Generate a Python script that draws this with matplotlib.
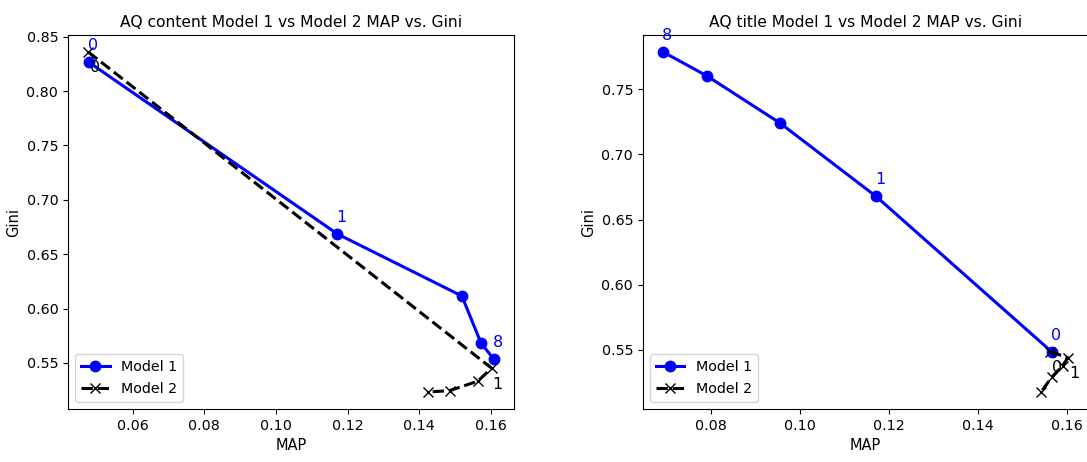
import matplotlib
matplotlib.use('Agg')
import matplotlib.pyplot as plt

# left panel: AQ content
content_m1_map = [0.0478, 0.1171, 0.1519, 0.1572, 0.1608]
content_m1_gini = [0.8265, 0.6687, 0.6115, 0.5685, 0.5534]
content_m1_labels = {0: '0', 1: '1', 4: '8'}
content_m2_map = [0.0476, 0.1602, 0.1563, 0.1485, 0.1425]
content_m2_gini = [0.8360, 0.5451, 0.5331, 0.5245, 0.5232]
content_m2_labels = {0: '0', 1: '1'}

# right panel: AQ title
title_m1_map = [0.0693, 0.0792, 0.0956, 0.1171, 0.1565]
title_m1_gini = [0.7785, 0.7600, 0.7238, 0.6677, 0.5485]
title_m1_labels = {0: '8', 3: '1', 4: '0'}
title_m2_map = [0.1562, 0.1601, 0.1590, 0.1565, 0.1541]
title_m2_gini = [0.5487, 0.5440, 0.5380, 0.5290, 0.5177]
title_m2_labels = {0: '0', 1: '1'}

panels = [
    ('AQ content Model 1 vs Model 2 MAP vs. Gini', content_m1_map, content_m1_gini, content_m1_labels,
     content_m2_map, content_m2_gini, content_m2_labels),
    ('AQ title Model 1 vs Model 2 MAP vs. Gini', title_m1_map, title_m1_gini, title_m1_labels,
     title_m2_map, title_m2_gini, title_m2_labels),
]

fig = plt.figure(figsize=(10.87, 4.62), dpi=100)
ax1 = fig.add_axes([0.0626, 0.1147, 0.4103, 0.8095])
ax2 = fig.add_axes([0.5915, 0.1147, 0.4094, 0.8095])

for ax, (title, m1x, m1y, m1l, m2x, m2y, m2l) in zip([ax1, ax2], panels):
    ax.plot(m1x, m1y, 'b-o', lw=2.2, ms=7.5, label='Model 1')
    ax.plot(m2x, m2y, 'k--x', lw=2.2, ms=7, label='Model 2')
    for i, t in m1l.items():
        ax.annotate(t, (m1x[i], m1y[i]), xytext=(3, 12), textcoords='offset points',
                    ha='center', va='center', color='b', fontsize=11.5)
    for i, t in m2l.items():
        ax.annotate(t, (m2x[i], m2y[i]), xytext=(4.5, -11.5), textcoords='offset points',
                    ha='center', va='center', color='k', fontsize=11.5)
    ax.set_title(title, fontsize=11.2)
    ax.set_xlabel('MAP', fontsize=10.5)
    ax.set_ylabel('Gini', fontsize=10.5)
    ax.tick_params(labelsize=10.3)
    ax.legend(loc='lower left', fontsize=10.3, handlelength=2.0, labelspacing=0.6)

fig.savefig('out.png', dpi=100)
